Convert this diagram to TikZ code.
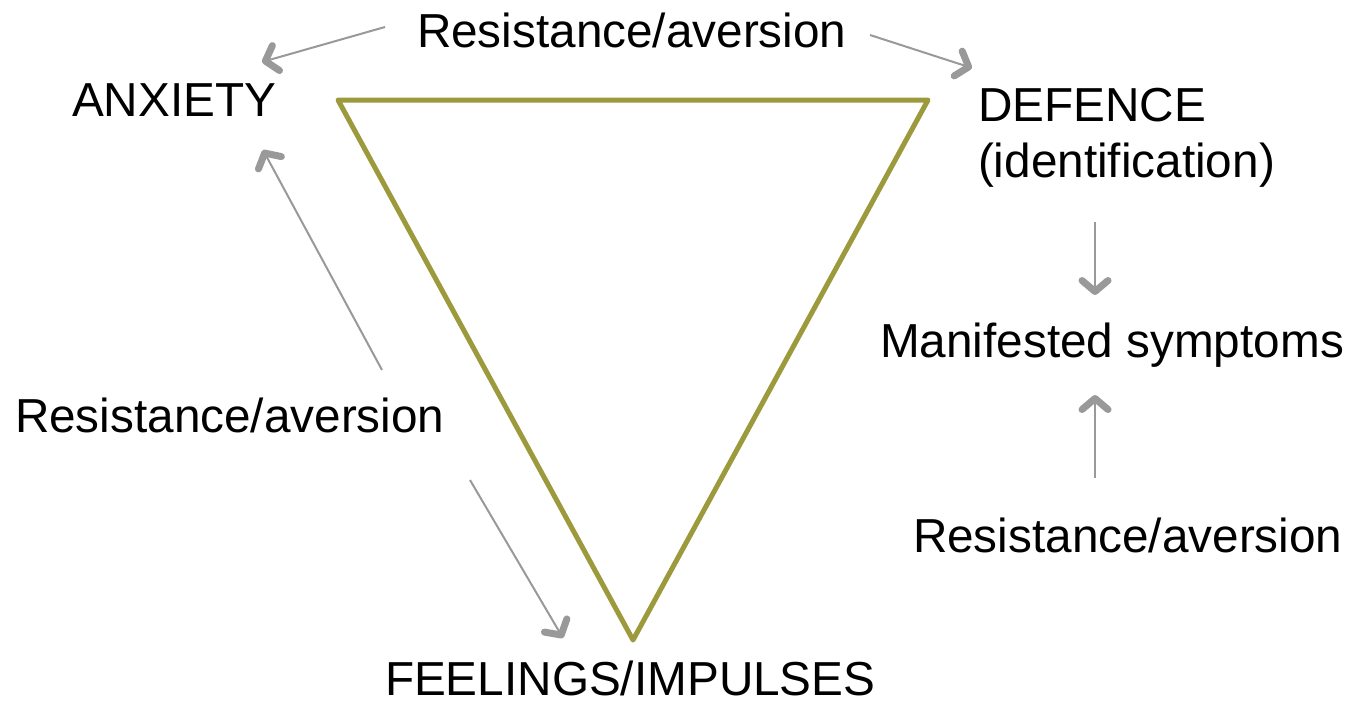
\documentclass[tikz,border=0pt]{standalone}
\usepackage{fontspec}
\setmainfont{Liberation Sans}
\usetikzlibrary{arrows.meta}
\definecolor{olive}{HTML}{9C9A3C}
\definecolor{arrgray}{HTML}{999999}
\begin{document}
\begin{tikzpicture}[x=1pt,y=-1pt,
  lbl/.style={anchor=base west,inner sep=0pt,outer sep=0pt,font=\fontsize{47.7}{57}\selectfont},
  garrow/.style={draw=arrgray,line width=2pt,-{Straight Barb[length=11pt,width=26pt,line width=7pt,round]}},
  tri/.style={draw=olive,line width=5pt,line join=round}]
\useasboundingbox (0,0) rectangle (1356,705);
% triangle
\coordinate (t1) at (338,100);
\coordinate (t2) at (928,100);
\coordinate (t3) at (633,640);
\draw[tri] (t1) -- (t2) -- (t3) -- cycle;
% labels
\node[lbl] (restop) at (417,47) {Resistance/aversion};
\node[lbl] (anx) at (72,116) {ANXIETY};
\node[lbl] (def) at (978,121) {DEFENCE};
\node[lbl] (ident) at (978,177) {(identification)};
\node[lbl] (manif) at (880,357) {Manifested symptoms};
\node[lbl] (resleft) at (15,432) {Resistance/aversion};
\node[lbl] (resright) at (913,552) {Resistance/aversion};
\node[lbl] (feel) at (385,695) {FEELINGS/IMPULSES};
% arrow end points
\coordinate (a1s) at (385,27);  \coordinate (a1e) at (262,62);
\coordinate (a2s) at (870,35);  \coordinate (a2e) at (972,68);
\coordinate (a3s) at (382,370); \coordinate (a3e) at (263,150);
\coordinate (a4s) at (470,480); \coordinate (a4e) at (563,638);
\coordinate (a5s) at (1095,222);\coordinate (a5e) at (1095,295);
\coordinate (a6s) at (1095,478);\coordinate (a6e) at (1095,395);
\draw[garrow] (a1s) -- (a1e);
\draw[garrow] (a2s) -- (a2e);
\draw[garrow] (a3s) -- (a3e);
\draw[garrow] (a4s) -- (a4e);
\draw[garrow] (a5s) -- (a5e);
\draw[garrow] (a6s) -- (a6e);
\end{tikzpicture}
\end{document}
